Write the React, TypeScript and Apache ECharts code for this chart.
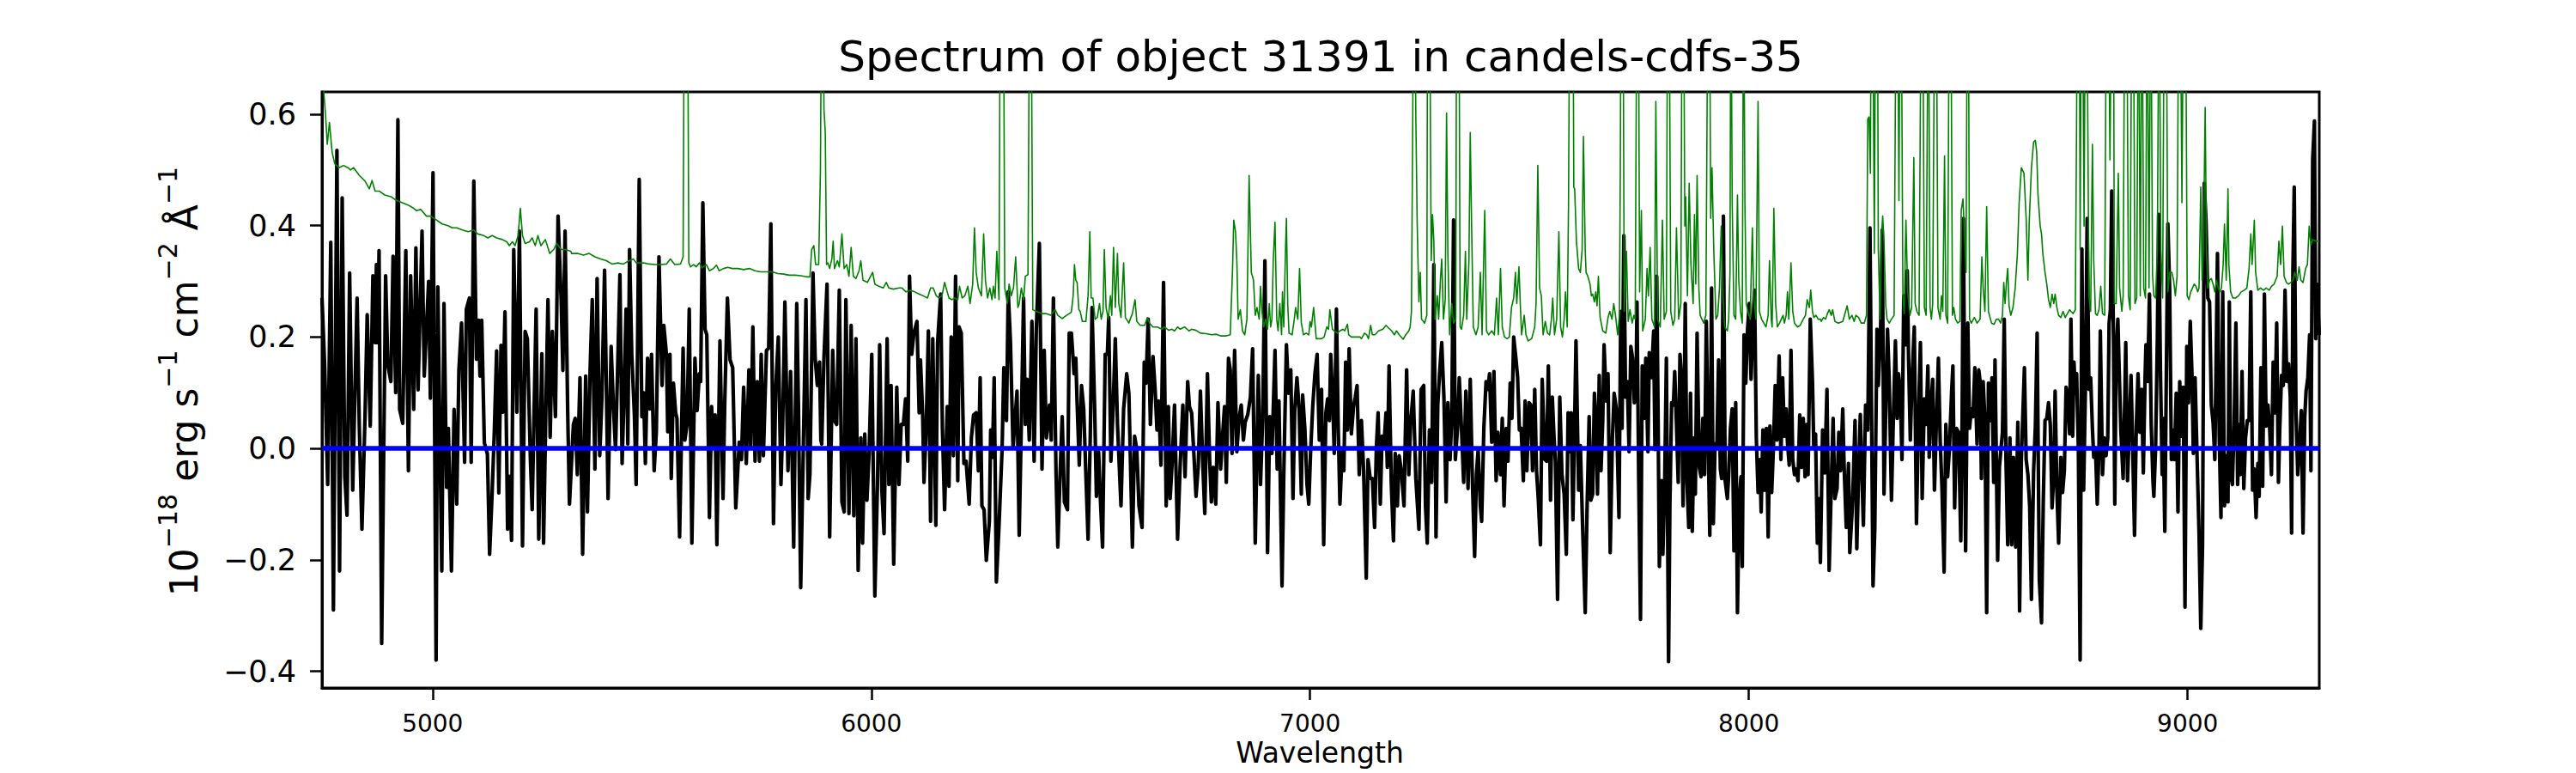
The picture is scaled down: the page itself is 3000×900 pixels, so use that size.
import React, { useEffect, useRef } from "react";
import * as echarts from "echarts";

const TITLE = "Spectrum of object 31391 in candels-cdfs-35";
const X_LABEL = "Wavelength";
const Y_LABEL_RICH = "{n|10}{s|\u221218}{n| erg s}{s|\u22121}{n| cm}{s|\u22122}{n| \u00C5}{s|\u22121}";
const X_TICKS = [5000, 6000, 7000, 8000, 9000];
const Y_TICKS = [-0.4, -0.2, 0, 0.2, 0.4, 0.6];
const X_MIN = 4748;
const X_MAX = 9300;
const Y_MIN = -0.43;
const Y_MAX = 0.64;

// black: object flux [wavelength, flux]
const fluxSeg1 = [[4748,0.27],[4754,0.15],[4761,-0.065],[4768,0.37],[4774,-0.29],[4782,0.535],[4788,-0.22],[4794,0.45],[4800,-0.05],[4805,-0.12],[4811,0.315],[4818,-0.075],[4828,0.27],[4833,0.04],[4839,-0.145],[4846,0.055],[4851,0.24],[4858,0.04],[4864,0.31],[4869,0.19],[4872,0.33],[4875,0.19],[4878,0.355],[4884,-0.35],[4893,0.31],[4898,0.15],[4905,0.12],[4910,0.345],[4916,0.10],[4921,0.59],[4925,0.07],[4932,0.045],[4939,0.355],[4945,-0.04],[4950,0.31],[4957,0.07],[4962,0.36],[4967,0.105],[4976,0.39],[4981,0.13],[4991,0.30],[4995,0.09],[5001,0.495],[5008,-0.38],[5012,0.29],[5021,-0.22],[5026,0.26],[5032,-0.07],[5036,0.036],[5043,-0.22],[5049,0.07],[5055,-0.10],[5060,0.14],[5066,0.225],[5073,-0.025],[5077,0.25],[5084,0.27],[5088,-0.025],[5094,0.48],[5100,0.16],[5105,0.23],[5108,0.13],[5112,0.23],[5118,0.01],[5125,-0.01],[5130,-0.19],[5136,-0.075],[5141,0.036],[5146,0.175],[5151,-0.08],[5156,0.185],[5160,0.065],[5165,0.245],[5171,-0.145],[5175,-0.05],[5180,-0.165],[5185,0.357],[5192,0.065],[5198,0.39],[5205,-0.175],[5211,0.21],[5216,0.197],[5223,-0.02],[5227,-0.11],[5236,0.25],[5242,-0.163],[5249,0.17],[5253,-0.17],[5258,0.06],[5263,0.267],[5268,0.02],[5273,0.21],[5280,0.057],[5286,0.417],[5293,0.267],[5297,0.14],[5302,0.39],[5308,0.065],[5312,-0.10]];
const fluxSeg2 = [[5321,0.043],[5325,0.054],[5330,-0.047],[5336,0.127],[5342,-0.19],[5349,0.13],[5353,-0.114],[5359,0.14],[5364,0.267],[5370,-0.037],[5375,0.305],[5381,-0.013],[5386,0.092],[5392,0.32],[5400,-0.09],[5407,0.183],[5412,0.078],[5417,-0.002],[5421,0.12],[5427,0.312],[5432,-0.027],[5436,0.085],[5441,0.25],[5445,0.008],[5449,0.357],[5454,0.169],[5460,0.06],[5464,-0.065],[5471,0.483],[5477,0.057],[5481,0.1],[5485,-0.027],[5490,0.162],[5495,0.071],[5499,0.169],[5505,-0.04],[5510,0.03],[5516,0.344],[5523,0.113],[5527,0.221],[5533,0.169],[5536,0.03],[5541,0.169],[5544,-0.054],[5549,0.117],[5554,0.064],[5557,0.054],[5563,-0.159],[5571,0.18],[5575,0.015],[5580,0.043],[5585,0.25],[5591,-0.17],[5598,0.162],[5603,0.068],[5608,0.134],[5611,0.12],[5616,0.441],[5621,0.214],[5625,0.204],[5631,-0.124],[5636,0.075],[5640,0.001],[5644,0.06],[5648,-0.173],[5655,0.193],[5662,-0.09],[5666,0.085],[5672,0.27],[5678,0.159],[5684,0.145],[5691,-0.107],[5699,0.011],[5704,-0.02],[5709,0.11],[5715,-0.027],[5721,0.141],[5725,0.001],[5730,0.218],[5735,-0.023],[5740,0.12],[5745,-0.023],[5749,0.169],[5754,-0.013],[5761,0.176],[5766,0.18],[5771,0.403],[5777,-0.135],[5782,0.106],[5788,0.2],[5794,-0.065],[5798,0.043],[5803,0.263],[5810,-0.04],[5816,0.138],[5823,-0.177],[5830,0.26],[5834,0.071],[5839,-0.25],[5846,0.043],[5851,0.267],[5856,-0.09],[5860,-0.047],[5867,0.315],[5872,0.162],[5877,0.113],[5882,0.155],[5885,0.015]];
const fluxSeg3 = [[5887,0.008],[5892,0.162],[5899,0.295],[5905,-0.159],[5912,0.176],[5916,0.05],[5921,0.043],[5927,0.284],[5933,-0.096],[5938,-0.114],[5942,0.267],[5949,-0.117],[5954,0.221],[5960,-0.121],[5965,0.197],[5970,-0.219],[5976,0.019],[5980,-0.17],[5985,0.026],[5990,-0.093],[5995,-0.006],[6001,0.169],[6008,-0.265],[6014,-0.065],[6019,0.186],[6024,-0.075],[6029,-0.153],[6036,0.197],[6040,-0.065],[6045,0.113],[6051,-0.208],[6058,0.11],[6063,-0.065],[6068,0.043],[6073,0.043],[6078,0.089],[6083,-0.023],[6087,0.309],[6092,0.169],[6097,0.207],[6104,0.228],[6109,0.064],[6112,0.159],[6117,0.06],[6120,-0.061],[6125,0.036],[6130,0.211],[6135,-0.131],[6140,0.197],[6147,-0.138],[6151,0.19],[6158,0.277],[6162,0.036],[6167,-0.11],[6173,0.075],[6177,-0.068],[6182,0.2],[6187,-0.013],[6192,0.309],[6197,-0.058],[6200,0.218],[6205,0.207],[6211,-0.027],[6216,-0.023],[6223,-0.1],[6228,0.019],[6233,0.06],[6239,0.064],[6244,-0.04],[6248,0.127],[6252,-0.103],[6257,-0.11],[6262,-0.201],[6269,-0.131],[6272,0.033],[6276,-0.016],[6280,0.127],[6285,-0.24],[6291,-0.138],[6298,-0.002],[6302,0.145],[6308,0.05],[6312,0.281],[6317,0.193],[6323,0.001],[6329,0.068],[6332,0.103],[6337,-0.156],[6342,0.05],[6347,0.27],[6351,0.043],[6355,0.124],[6360,0.015],[6366,0.228],[6371,-0.023],[6376,0.214],[6383,0.368],[6389,-0.037],[6394,0.176],[6399,0.019],[6406,0.078],[6410,0.015],[6415,0.27],[6421,-0.047],[6425,-0.177],[6430,-0.051],[6435,0.057],[6440,-0.096],[6447,-0.11],[6451,0.207]];
const fluxSeg4 = [[6456,0.207],[6462,0.134],[6466,0.162],[6469,0.082],[6474,-0.03],[6479,0.113],[6484,0.071],[6489,-0.047],[6494,-0.163],[6499,0.022],[6503,0.253],[6509,0.071],[6513,-0.086],[6518,-0.006],[6522,-0.09],[6527,-0.177],[6533,0.169],[6538,0.169],[6541,0.235],[6546,-0.023],[6551,0.071],[6556,0.197],[6561,0.043],[6569,-0.103],[6575,0.071],[6582,0.134],[6587,0.099],[6595,-0.177],[6600,0.022],[6605,-0.002],[6610,-0.103],[6617,-0.142],[6622,0.155],[6626,0.117],[6631,0.232],[6636,0.043],[6642,0.165],[6647,0.103],[6651,0.033],[6655,0.085],[6660,-0.03],[6666,0.298],[6672,-0.103],[6677,0.075],[6681,-0.09],[6686,-0.02],[6691,0.078],[6698,-0.163],[6704,-0.027],[6710,0.078],[6715,-0.051],[6721,0.12],[6725,0.075],[6730,0.064],[6736,-0.023],[6740,-0.086],[6745,-0.034],[6750,0.103],[6755,-0.02],[6760,-0.117],[6766,0.134],[6771,-0.02],[6775,-0.096],[6779,-0.034],[6785,-0.1],[6790,0.082],[6796,-0.037],[6801,0.029],[6805,0.075],[6809,-0.061],[6814,0.162],[6818,0.141],[6822,-0.009],[6828,0.176],[6833,-0.006],[6838,0.054],[6843,0.078],[6848,0.015],[6852,0.047],[6858,0.061],[6864,0.092],[6869,0.179],[6875,-0.17],[6882,0.131],[6887,-0.065],[6892,0.057],[6897,0.337],[6903,-0.187],[6908,0.057],[6913,-0.009],[6920,0.176],[6925,-0.037],[6929,0.085],[6936,-0.247],[6940,-0.047],[6946,0.186],[6951,0.099],[6956,0.141],[6961,-0.09],[6965,0.068],[6970,0.127],[6975,0.071],[6980,-0.082],[6983,0.096],[6988,0.036],[6993,-0.065],[6997,-0.1],[7001,-0.009],[7006,0.075],[7011,0.134],[7016,0.169],[7021,0.015]];
const fluxSeg5 = [[7026,0.106],[7031,-0.173],[7036,0.064],[7040,0.089],[7044,0.05],[7047,0.169],[7052,0.078],[7055,-0.009],[7060,0.25],[7064,0.043],[7068,-0.1],[7073,-0.006],[7077,-0.04],[7081,0.155],[7085,0.033],[7089,0.179],[7094,0.026],[7099,0.075],[7103,0.092],[7107,0.113],[7112,-0.047],[7117,0.05],[7122,-0.04],[7128,-0.233],[7132,-0.02],[7137,-0.054],[7142,-0.054],[7147,-0.142],[7151,0.001],[7155,0.064],[7160,-0.1],[7164,0.022],[7168,0.001],[7173,0.064],[7176,-0.034],[7180,0.148],[7185,-0.061],[7190,-0.166],[7194,-0.009],[7199,-0.103],[7203,-0.013],[7208,-0.04],[7214,-0.103],[7220,0.141],[7225,-0.047],[7229,0.043],[7235,0.103],[7241,-0.054],[7248,-0.145],[7253,0.106],[7259,0.113],[7263,-0.103],[7267,-0.17],[7272,0.033],[7277,-0.061],[7282,0.33],[7287,-0.159],[7291,0.078],[7295,0.134],[7300,0.19],[7305,0.092],[7310,-0.096],[7314,0.082],[7319,-0.02],[7323,0.057],[7327,0.41],[7331,-0.02],[7336,0.036],[7340,0.127],[7345,0.036],[7350,-0.061],[7355,0.103],[7360,-0.072],[7365,0.124],[7370,-0.061],[7375,-0.194],[7379,-0.047],[7383,-0.002],[7388,-0.103],[7391,-0.131],[7396,0.036],[7401,0.12],[7405,0.106],[7409,0.134],[7414,0.011],[7419,0.138],[7424,-0.058],[7428,0.029],[7434,-0.047],[7438,0.054],[7442,-0.103],[7447,0.036],[7451,-0.023],[7456,0.117],[7460,0.054],[7464,0.2],[7469,0.162],[7473,0.127],[7477,0.033],[7481,0.036],[7486,-0.058],[7490,0.085],[7494,-0.04],[7499,0.082],[7503,0.078],[7507,-0.04],[7512,0.106],[7516,-0.04],[7520,-0.09],[7525,-0.173],[7529,0.124],[7535,-0.02],[7539,-0.023],[7543,0.148],[7548,-0.093],[7552,0.092],[7556,0.019],[7559,-0.023],[7564,-0.271],[7569,0.092],[7574,-0.047],[7579,-0.082],[7584,-0.19],[7588,0.064],[7593,-0.006]];
const fluxSeg6 = [[7595,0.064],[7599,-0.128],[7602,0.001],[7606,0.193],[7612,-0.075],[7616,0.005],[7621,-0.138],[7627,-0.295],[7631,-0.117],[7636,0.057],[7640,-0.093],[7644,-0.082],[7648,0.099],[7651,0.057],[7655,-0.082],[7659,0.131],[7663,-0.04],[7667,0.05],[7670,0.186],[7675,0.085],[7679,0.134],[7684,-0.187],[7689,0.019],[7693,0.099],[7698,0.071],[7704,-0.124],[7708,0.246],[7711,0.036],[7715,0.382],[7719,0.092],[7723,0.12],[7727,-0.006],[7731,0.183],[7735,0.162],[7739,0.082],[7743,0.117],[7745,0.263],[7749,-0.061],[7753,-0.307],[7757,0.148],[7761,0.054],[7765,0.162],[7770,-0.006],[7773,0.172],[7778,0.127],[7783,0.211],[7786,-0.002],[7790,0.309],[7793,0.071],[7796,-0.212],[7801,-0.058],[7804,-0.19],[7808,-0.068],[7812,0.162],[7817,-0.383],[7820,-0.103],[7824,0.082],[7828,0.078],[7831,0.138],[7835,0.043],[7839,-0.061],[7843,0.169],[7846,0.131],[7850,-0.103],[7855,0.26],[7859,-0.061],[7863,-0.142],[7867,0.099],[7871,-0.149],[7875,0.019],[7878,-0.082],[7882,0.207],[7887,-0.034],[7891,-0.051],[7895,0.054],[7899,-0.047],[7903,0.228],[7907,0.029],[7911,-0.156],[7915,0.288],[7919,-0.135],[7923,0.008],[7927,0.001],[7931,0.159],[7935,-0.037],[7938,-0.054],[7942,0.417],[7946,-0.058],[7951,-0.09],[7954,-0.047],[7958,0.036],[7962,0.071],[7966,-0.184],[7970,0.082],[7974,-0.295],[7978,-0.093],[7982,-0.051],[7985,-0.212],[7989,0.204],[7993,0.117],[7997,0.214],[8001,0.26],[8005,0.124],[8009,0.218],[8013,0.284],[8017,0.019],[8021,-0.079],[8025,-0.02],[8028,-0.114],[8032,0.033],[8036,-0.075],[8040,0.036],[8044,-0.159],[8048,0.04],[8052,-0.079],[8056,0.001],[8060,0.113],[8064,0.015],[8069,0.166],[8073,-0.02],[8077,0.127],[8081,0.022],[8085,0.071],[8088,0.011],[8092,-0.03],[8096,0.176],[8100,-0.02],[8104,-0.047],[8108,-0.037],[8112,-0.058],[8116,0.06],[8120,-0.034],[8124,0.054],[8128,-0.051],[8132,0.043],[8135,-0.047],[8140,0.232],[8145,0.12],[8148,0.001],[8152,0.026],[8156,-0.17],[8160,-0.09],[8163,-0.205]];
const fluxSeg7 = [[8168,0.033],[8173,-0.044],[8178,0.106],[8183,-0.219],[8188,-0.061],[8192,0.054],[8196,-0.09],[8201,-0.072],[8205,0.029],[8209,-0.04],[8214,0.071],[8217,-0.03],[8222,-0.142],[8227,-0.027],[8230,-0.187],[8235,-0.117],[8238,-0.054],[8242,0.05],[8246,-0.18],[8250,-0.047],[8254,0.061],[8257,-0.027],[8261,-0.138],[8266,0.078],[8271,0.033],[8276,0.396],[8280,0.029],[8283,-0.247],[8287,-0.145],[8292,0.214],[8295,0.113],[8300,0.204],[8304,0.392],[8308,-0.082],[8313,0.106],[8316,0.214],[8320,0.12],[8325,-0.093],[8329,0.043],[8334,0.193],[8338,0.054],[8341,0.134],[8345,0.106],[8349,-0.02],[8353,0.274],[8357,0.186],[8361,0.319],[8364,0.162],[8368,0.015],[8372,0.127],[8377,0.218],[8382,-0.135],[8387,0.071],[8391,0.19],[8395,-0.09],[8400,0.089],[8404,0.043],[8408,0.148],[8411,-0.016],[8415,0.078],[8419,0.124],[8423,-0.075],[8427,0.036],[8432,0.162],[8436,0.015],[8440,-0.068],[8445,-0.222],[8449,0.043],[8453,-0.051],[8457,-0.002],[8462,0.099],[8465,0.148],[8469,-0.107],[8473,0.036],[8478,0.029],[8483,-0.166],[8486,0.05],[8489,0.413],[8494,-0.184],[8499,0.225],[8503,0.036],[8507,0.071],[8511,0.057],[8515,0.145],[8520,0.008],[8524,0.141],[8527,0.12],[8530,-0.054],[8534,0.12],[8538,0.05],[8542,-0.295],[8546,0.117],[8550,0.05],[8554,0.127],[8558,-0.061],[8561,0.159],[8567,-0.201],[8571,-0.034],[8574,-0.006],[8578,0.029],[8582,0.232],[8586,-0.02],[8590,-0.173],[8595,0.019],[8599,-0.173],[8603,-0.016],[8608,-0.177],[8613,0.047],[8617,-0.292],[8621,-0.02],[8628,0.145],[8632,-0.02],[8636,-0.047],[8640,-0.103],[8644,-0.271],[8649,-0.04],[8653,0.04],[8657,0.207],[8662,-0.236],[8667,-0.313],[8671,-0.096],[8675,0.05],[8679,0.054],[8683,0.082],[8687,0.043],[8691,-0.107],[8695,-0.047],[8698,0.103],[8702,-0.075],[8706,-0.17],[8711,-0.016],[8715,-0.079],[8719,-0.04],[8723,0.11],[8727,0.092],[8731,0.026],[8734,0.232]];
const fluxSeg8 = [[8738,0.022],[8741,0.155],[8744,0.099],[8747,0.134],[8751,-0.002],[8755,-0.38],[8759,0.358],[8763,-0.075],[8767,0.106],[8771,0.413],[8775,0.106],[8779,0.127],[8783,0.036],[8786,-0.016],[8790,0.001],[8794,-0.1],[8798,0.001],[8801,0.211],[8806,-0.047],[8810,0.019],[8814,-0.013],[8818,0.019],[8821,0.225],[8824,0.249],[8827,0.462],[8831,0.197],[8834,-0.1],[8837,0.169],[8841,0.232],[8844,0.141],[8848,0.029],[8853,-0.054],[8857,0.099],[8859,0.19],[8863,-0.058],[8867,0.033],[8871,0.131],[8875,-0.006],[8879,-0.156],[8883,0.04],[8887,0.134],[8891,0.029],[8895,0.106],[8899,-0.044],[8903,0.127],[8905,0.186],[8909,0.12],[8913,0.277],[8917,0.043],[8921,-0.058],[8923,-0.086],[8927,0.001],[8931,0.197],[8934,0.42],[8938,0.141],[8942,-0.047],[8944,0.054],[8948,-0.149],[8951,0.096],[8955,0.403],[8959,0.288],[8963,-0.02],[8966,0.033],[8970,-0.02],[8974,0.099],[8978,-0.114],[8982,0.12],[8986,0.022],[8990,0.11],[8994,-0.285],[8998,0.183],[9002,0.082],[9006,0.228],[9010,0.131],[9013,-0.009],[9017,0.127],[9021,0.001],[9026,-0.152],[9030,-0.323],[9034,-0.173],[9038,0.476],[9042,0.406],[9046,0.27],[9050,0.263],[9054,0.078],[9058,0.047],[9062,-0.02],[9066,0.221],[9068,0.35],[9072,0.022],[9076,-0.124],[9080,0.281],[9084,-0.103],[9088,-0.013],[9092,-0.096],[9095,0.263],[9098,-0.047],[9102,-0.065],[9106,0.043],[9110,0.225],[9114,-0.065],[9118,0.043],[9120,-0.047],[9124,0.138],[9128,-0.072],[9132,0.019],[9136,0.05],[9140,0.05],[9144,0.281],[9148,-0.075],[9152,-0.037],[9156,-0.124],[9160,-0.027],[9163,-0.086],[9167,0.145],[9171,-0.068],[9175,0.277],[9179,0.04],[9183,0.078],[9187,0.036],[9191,-0.047],[9195,0.155],[9199,0.064],[9203,0.225],[9207,-0.061],[9210,0.036],[9214,0.131],[9218,0.113],[9222,0.284],[9226,0.12],[9230,0.152],[9234,0.092],[9237,-0.152],[9240,0.323],[9243,0.469],[9247,0.064],[9251,-0.047],[9255,0.001],[9259,0.068],[9263,-0.152],[9267,0.057],[9270,0.103],[9274,0.127],[9278,0.204],[9281,-0.04],[9285,0.518],[9289,0.588],[9292,0.197],[9295,0.295],[9300,0.204]];

// green: noise / sky spectrum [wavelength, value]
const skySeg1 = [[4748,0.7],[4752,0.64],[4756,0.6],[4760,0.546],[4765,0.585],[4771,0.532],[4777,0.511],[4787,0.504],[4797,0.508],[4807,0.504],[4813,0.5],[4820,0.504],[4833,0.49],[4846,0.48],[4856,0.466],[4862,0.481],[4869,0.462],[4878,0.462],[4891,0.455],[4905,0.452],[4918,0.445],[4931,0.441],[4944,0.437],[4957,0.431],[4963,0.427],[4973,0.429],[4986,0.417],[4996,0.417],[5009,0.41],[5022,0.403],[5035,0.4],[5045,0.396],[5055,0.396],[5068,0.392],[5081,0.389],[5094,0.392],[5103,0.385],[5117,0.382],[5126,0.378],[5136,0.382],[5146,0.378],[5159,0.375],[5169,0.371],[5175,0.364],[5182,0.371],[5188,0.364],[5195,0.382],[5200,0.431],[5205,0.382],[5211,0.368],[5221,0.371],[5227,0.378],[5234,0.364],[5240,0.382],[5247,0.364],[5257,0.375],[5267,0.35],[5276,0.357],[5283,0.368],[5293,0.357],[5302,0.357],[5315,0.354]];
const skySeg2 = [[5317,0.35],[5330,0.35],[5344,0.347],[5357,0.35],[5370,0.344],[5383,0.34],[5396,0.337],[5409,0.331],[5422,0.333],[5435,0.331],[5448,0.337],[5458,0.34],[5464,0.333],[5481,0.333],[5494,0.331],[5507,0.33],[5520,0.33],[5533,0.331],[5542,0.34],[5552,0.33],[5565,0.331],[5571,0.344],[5574,0.9],[5578,0.9],[5581,0.9],[5584,0.333],[5588,0.326],[5595,0.33],[5601,0.326],[5608,0.333],[5614,0.324],[5624,0.33],[5631,0.319],[5640,0.323],[5647,0.329],[5653,0.319],[5663,0.323],[5673,0.325],[5683,0.323],[5696,0.323],[5709,0.321],[5722,0.323],[5735,0.319],[5748,0.317],[5761,0.317],[5774,0.317],[5787,0.314],[5800,0.313],[5813,0.311],[5826,0.311],[5839,0.31],[5852,0.308],[5860,0.308],[5864,0.357],[5869,0.364],[5873,0.33],[5880,0.33],[5884,0.5]];
const skySeg3 = [[5887,0.9],[5890,0.9],[5892,0.61],[5895,0.567],[5898,0.33],[5901,0.333],[5905,0.323],[5910,0.34],[5913,0.372],[5916,0.323],[5923,0.337],[5927,0.326],[5933,0.385],[5938,0.323],[5944,0.33],[5949,0.309],[5954,0.361],[5959,0.309],[5965,0.305],[5972,0.319],[5976,0.337],[5981,0.302],[5991,0.298],[6003,0.316],[6008,0.295],[6017,0.291],[6027,0.288],[6034,0.298],[6040,0.288],[6050,0.286],[6063,0.288],[6070,0.288],[6079,0.281],[6089,0.284],[6099,0.281],[6109,0.277],[6118,0.274],[6128,0.27],[6135,0.288],[6141,0.288],[6148,0.274],[6154,0.27],[6161,0.274],[6167,0.298],[6173,0.281],[6177,0.27],[6184,0.267],[6190,0.27],[6197,0.267],[6201,0.291],[6207,0.27],[6213,0.274],[6220,0.291],[6225,0.26],[6231,0.295],[6235,0.396],[6239,0.316],[6244,0.288],[6251,0.274],[6256,0.385],[6260,0.302],[6265,0.27],[6270,0.288],[6275,0.267],[6278,0.291],[6282,0.27],[6286,0.354],[6291,0.267],[6294,0.9],[6298,0.9],[6301,0.9],[6304,0.288],[6310,0.26],[6314,0.295],[6319,0.274],[6324,0.288],[6329,0.344],[6334,0.253],[6337,0.26],[6342,0.288],[6347,0.267],[6351,0.309],[6357,0.312],[6361,0.9],[6364,0.9],[6368,0.249],[6376,0.246],[6389,0.242],[6399,0.242],[6409,0.239],[6419,0.249],[6425,0.239],[6435,0.233],[6445,0.239],[6455,0.244]];
const skySeg4 = [[6456,0.246],[6460,0.274],[6463,0.33],[6466,0.302],[6469,0.298],[6473,0.249],[6476,0.246],[6481,0.228],[6489,0.228],[6494,0.274],[6498,0.389],[6501,0.27],[6505,0.27],[6510,0.232],[6515,0.235],[6520,0.26],[6524,0.232],[6528,0.246],[6531,0.357],[6535,0.253],[6540,0.232],[6545,0.274],[6548,0.239],[6552,0.361],[6556,0.253],[6561,0.35],[6564,0.26],[6569,0.235],[6575,0.333],[6579,0.235],[6587,0.225],[6590,0.232],[6595,0.242],[6601,0.267],[6605,0.228],[6613,0.221],[6623,0.221],[6629,0.235],[6634,0.225],[6642,0.218],[6652,0.218],[6662,0.214],[6668,0.218],[6678,0.212],[6685,0.214],[6691,0.211],[6698,0.218],[6704,0.214],[6714,0.218],[6724,0.211],[6730,0.214],[6740,0.212],[6750,0.207],[6763,0.206],[6776,0.204],[6786,0.205],[6796,0.202],[6809,0.202],[6818,0.204],[6823,0.316],[6826,0.41],[6830,0.389],[6833,0.337],[6836,0.232],[6841,0.249],[6846,0.211],[6851,0.204],[6856,0.232],[6858,0.337],[6861,0.49],[6866,0.316],[6871,0.302],[6875,0.239],[6879,0.253],[6884,0.232],[6887,0.291],[6890,0.249],[6894,0.218],[6899,0.232],[6903,0.214],[6907,0.26],[6910,0.218],[6913,0.232],[6916,0.337],[6920,0.406],[6924,0.232],[6927,0.211],[6931,0.26],[6935,0.204],[6937,0.281],[6940,0.218],[6944,0.357],[6946,0.413],[6949,0.26],[6952,0.207],[6959,0.204],[6964,0.232],[6967,0.253],[6972,0.232],[6976,0.323],[6980,0.225],[6985,0.204],[6991,0.207],[6997,0.204],[7000,0.228],[7003,0.218],[7008,0.253],[7011,0.225],[7014,0.197],[7024,0.197]];
const skySeg5 = [[7026,0.197],[7032,0.2],[7038,0.218],[7042,0.214],[7045,0.249],[7051,0.214],[7055,0.211],[7062,0.207],[7068,0.211],[7075,0.214],[7079,0.211],[7085,0.223],[7088,0.204],[7094,0.2],[7104,0.2],[7114,0.2],[7117,0.197],[7124,0.207],[7129,0.204],[7133,0.197],[7138,0.221],[7142,0.204],[7148,0.204],[7156,0.211],[7166,0.214],[7173,0.221],[7179,0.216],[7186,0.211],[7192,0.204],[7197,0.211],[7203,0.204],[7212,0.196],[7218,0.204],[7225,0.211],[7228,0.218],[7231,0.246],[7234,0.6],[7236,0.9],[7238,0.9],[7241,0.595],[7244,0.406],[7248,0.263],[7251,0.316],[7254,0.232],[7261,0.225],[7266,0.239],[7268,0.9],[7272,0.9],[7276,0.337],[7279,0.42],[7282,0.372],[7285,0.232],[7290,0.274],[7293,0.232],[7297,0.302],[7300,0.34],[7304,0.232],[7308,0.267],[7311,0.602],[7314,0.35],[7318,0.204],[7323,0.26],[7327,0.225],[7332,0.232],[7334,0.9],[7339,0.9],[7342,0.218],[7345,0.214],[7350,0.239],[7354,0.354],[7357,0.232],[7362,0.337],[7365,0.567],[7368,0.406],[7372,0.218],[7378,0.204],[7383,0.218],[7388,0.316],[7392,0.204],[7398,0.427],[7402,0.211],[7407,0.204],[7414,0.211],[7420,0.204],[7425,0.27],[7429,0.204],[7434,0.323],[7438,0.218],[7443,0.2],[7449,0.197],[7454,0.2],[7459,0.253],[7464,0.27],[7468,0.316],[7471,0.26],[7476,0.326],[7479,0.26],[7482,0.204],[7488,0.239],[7492,0.204],[7497,0.193],[7505,0.197],[7512,0.218],[7515,0.26],[7519,0.508],[7523,0.288],[7527,0.274],[7531,0.204],[7536,0.228],[7541,0.207],[7546,0.204],[7550,0.232],[7553,0.27],[7557,0.204],[7562,0.232],[7567,0.389],[7571,0.218],[7575,0.2],[7579,0.232],[7582,0.281],[7586,0.218],[7589,0.441],[7592,0.9]];
const skySeg6 = [[7595,0.9],[7599,0.9],[7601,0.469],[7603,0.466],[7607,0.372],[7612,0.323],[7616,0.316],[7620,0.357],[7623,0.56],[7627,0.357],[7629,0.316],[7633,0.309],[7638,0.295],[7641,0.274],[7644,0.277],[7648,0.263],[7651,0.281],[7654,0.256],[7657,0.309],[7661,0.235],[7667,0.211],[7674,0.207],[7679,0.235],[7683,0.246],[7688,0.232],[7692,0.26],[7696,0.239],[7701,0.204],[7705,0.239],[7707,0.5],[7709,0.9],[7713,0.9],[7716,0.246],[7721,0.354],[7725,0.228],[7729,0.249],[7734,0.225],[7738,0.239],[7741,0.232],[7745,0.9],[7748,0.9],[7751,0.281],[7755,0.427],[7758,0.211],[7764,0.232],[7768,0.323],[7771,0.274],[7775,0.361],[7779,0.232],[7785,0.218],[7788,0.623],[7792,0.232],[7798,0.218],[7803,0.41],[7807,0.232],[7812,0.246],[7815,0.9],[7818,0.9],[7822,0.246],[7827,0.221],[7831,0.232],[7835,0.396],[7840,0.232],[7845,0.26],[7848,0.9],[7851,0.9],[7854,0.399],[7856,0.452],[7860,0.274],[7864,0.476],[7868,0.33],[7873,0.26],[7876,0.42],[7879,0.295],[7882,0.49],[7886,0.288],[7889,0.239],[7893,0.232],[7897,0.225],[7902,0.239],[7907,0.9],[7910,0.9],[7913,0.413],[7916,0.504],[7920,0.357],[7925,0.232],[7929,0.239],[7933,0.288],[7937,0.399],[7941,0.274],[7945,0.218],[7951,0.211],[7954,0.232],[7957,0.316],[7959,0.9],[7962,0.441],[7966,0.239],[7970,0.232],[7974,0.455],[7977,0.302],[7981,0.246],[7985,0.225],[7988,0.9],[7991,0.441],[7994,0.26],[7998,0.246],[8003,0.232],[8008,0.396],[8011,0.274],[8016,0.232],[8021,0.623],[8024,0.246],[8029,0.232],[8034,0.225],[8039,0.218],[8044,0.239],[8047,0.337],[8051,0.232],[8053,0.218],[8057,0.431],[8061,0.26],[8065,0.218],[8070,0.225],[8074,0.232],[8078,0.239],[8081,0.225],[8085,0.239],[8088,0.281],[8091,0.232],[8096,0.333],[8100,0.246],[8104,0.225],[8111,0.218],[8117,0.221],[8124,0.232],[8129,0.239],[8133,0.267],[8138,0.253],[8141,0.284],[8145,0.246],[8148,0.235],[8153,0.239],[8158,0.232],[8163,0.232]];
const skySeg7 = [[8165,0.228],[8170,0.235],[8175,0.232],[8179,0.242],[8183,0.249],[8188,0.239],[8191,0.249],[8196,0.228],[8204,0.225],[8214,0.228],[8218,0.239],[8224,0.256],[8229,0.232],[8235,0.239],[8240,0.228],[8244,0.239],[8250,0.235],[8256,0.225],[8263,0.225],[8268,0.239],[8271,0.591],[8274,0.595],[8277,0.494],[8279,0.9],[8282,0.9],[8286,0.35],[8289,0.9],[8293,0.9],[8295,0.357],[8299,0.232],[8302,0.378],[8305,0.417],[8308,0.372],[8312,0.256],[8315,0.232],[8320,0.225],[8325,0.232],[8331,0.239],[8336,0.9],[8339,0.9],[8342,0.445],[8345,0.9],[8347,0.9],[8351,0.274],[8354,0.242],[8358,0.41],[8362,0.281],[8367,0.239],[8371,0.253],[8376,0.522],[8379,0.26],[8383,0.246],[8388,0.239],[8393,0.9],[8396,0.9],[8400,0.253],[8404,0.239],[8409,0.9],[8413,0.253],[8416,0.232],[8419,0.26],[8424,0.9],[8427,0.9],[8431,0.253],[8436,0.232],[8439,0.274],[8442,0.246],[8446,0.525],[8449,0.239],[8453,0.225],[8457,0.9],[8460,0.9],[8464,0.239],[8467,0.253],[8471,0.232],[8476,0.225],[8481,0.228],[8484,0.427],[8488,0.448],[8491,0.392],[8495,0.316],[8498,0.9],[8500,0.9],[8503,0.232],[8507,0.225],[8514,0.235],[8520,0.225],[8527,0.232],[8531,0.344],[8534,0.288],[8538,0.246],[8542,0.434],[8546,0.246],[8553,0.225],[8559,0.223],[8564,0.232],[8569,0.232],[8574,0.225],[8578,0.239],[8581,0.298],[8584,0.26],[8587,0.298],[8590,0.323],[8593,0.256],[8597,0.239],[8602,0.253],[8607,0.288],[8612,0.35],[8616,0.441],[8621,0.504],[8627,0.494],[8632,0.413],[8636,0.302],[8639,0.406],[8644,0.504],[8649,0.55],[8653,0.553],[8656,0.532],[8659,0.455],[8664,0.399],[8667,0.385],[8670,0.35],[8675,0.316],[8679,0.295],[8683,0.267],[8687,0.253],[8691,0.277],[8695,0.26],[8698,0.277],[8702,0.253],[8706,0.239],[8711,0.235],[8716,0.246],[8721,0.235],[8726,0.242],[8731,0.249]];
const skySeg8 = [[8734,0.246],[8739,0.242],[8744,0.249],[8747,0.6],[8749,0.9],[8753,0.9],[8755,0.357],[8758,0.9],[8760,0.9],[8764,0.399],[8767,0.9],[8770,0.9],[8775,0.274],[8779,0.246],[8783,0.546],[8786,0.337],[8790,0.242],[8794,0.239],[8798,0.249],[8802,0.291],[8806,0.242],[8811,0.239],[8815,0.9],[8819,0.9],[8823,0.518],[8827,0.9],[8831,0.9],[8833,0.26],[8837,0.26],[8842,0.494],[8845,0.288],[8850,0.246],[8853,0.274],[8857,0.9],[8861,0.9],[8865,0.274],[8869,0.249],[8873,0.9],[8876,0.9],[8880,0.26],[8884,0.27],[8888,0.9],[8892,0.274],[8896,0.9],[8900,0.288],[8904,0.27],[8908,0.9],[8912,0.288],[8916,0.9],[8920,0.312],[8923,0.274],[8927,0.27],[8931,0.357],[8935,0.9],[8939,0.357],[8943,0.27],[8947,0.9],[8951,0.9],[8955,0.281],[8959,0.316],[8964,0.316],[8968,0.302],[8972,0.274],[8976,0.309],[8980,0.9],[8983,0.9],[8987,0.441],[8991,0.9],[8995,0.9],[8999,0.274],[9003,0.267],[9007,0.281],[9011,0.288],[9015,0.295],[9019,0.291],[9023,0.281],[9026,0.288],[9030,0.469],[9033,0.302],[9036,0.357],[9040,0.612],[9043,0.357],[9046,0.288],[9050,0.302],[9054,0.305],[9058,0.295],[9062,0.281],[9066,0.302],[9070,0.288],[9073,0.281],[9077,0.288],[9081,0.33],[9084,0.403],[9088,0.302],[9092,0.466],[9094,0.33],[9098,0.281],[9103,0.27],[9109,0.27],[9116,0.274],[9122,0.281],[9129,0.284],[9135,0.288],[9140,0.323],[9144,0.385],[9147,0.33],[9152,0.41],[9155,0.316],[9160,0.284],[9166,0.288],[9173,0.284],[9179,0.288],[9186,0.284],[9191,0.291],[9197,0.295],[9204,0.309],[9208,0.372],[9212,0.33],[9216,0.399],[9220,0.309],[9225,0.298],[9230,0.295],[9235,0.298],[9240,0.302],[9244,0.316],[9250,0.302],[9254,0.326],[9258,0.302],[9263,0.298],[9269,0.323],[9273,0.33],[9277,0.399],[9281,0.365],[9285,0.375],[9292,0.372],[9300,0.372]];

// blue: zero level
const zeroLine = [[X_MIN, 0], [X_MAX, 0]];

const FONT = "DejaVu Sans";

export default function App() {
  const ref = useRef<HTMLDivElement>(null);
  useEffect(() => {
    if (!ref.current) return;
    const chart = echarts.init(ref.current, undefined, { renderer: "svg" });
    const flux = [...fluxSeg1, ...fluxSeg2, ...fluxSeg3, ...fluxSeg4, ...fluxSeg5, ...fluxSeg6, ...fluxSeg7, ...fluxSeg8];
    const sky = [...skySeg1, ...skySeg2, ...skySeg3, ...skySeg4, ...skySeg5, ...skySeg6, ...skySeg7, ...skySeg8];
    const tickLine = { color: "#000", width: 2.5 };
    chart.setOption({
      animation: false,
      backgroundColor: "#ffffff",
      grid: {
        left: 375, top: 107, width: 2326, height: 694,
        show: true, borderColor: "#000", borderWidth: 3, backgroundColor: "transparent",
      },
      xAxis: {
        type: "value", min: X_MIN, max: X_MAX,
        axisLine: { show: true, onZero: false, lineStyle: { color: "#000", width: 3 } },
        axisTick: { show: true, inside: false, length: 14, lineStyle: tickLine, customValues: X_TICKS },
        axisLabel: {
          customValues: X_TICKS, margin: 27, fontSize: 28, fontFamily: FONT, color: "#000",
          formatter: (v: number) => String(Math.round(v)),
        },
        splitLine: { show: false },
      },
      yAxis: {
        type: "value", min: Y_MIN, max: Y_MAX,
        axisLine: { show: true, onZero: false, lineStyle: { color: "#000", width: 3 } },
        axisTick: { show: true, inside: false, length: 14, lineStyle: tickLine, customValues: Y_TICKS },
        axisLabel: {
          customValues: Y_TICKS, margin: 30, fontSize: 35, fontFamily: FONT, color: "#000",
          formatter: (v: number) => v.toFixed(1).replace("-", "\u2212"),
        },
        splitLine: { show: false },
      },
      series: [
        {
          name: "flux", type: "line", data: flux, symbol: "none", showSymbol: false, clip: true,
          lineStyle: { color: "#000000", width: 4.2, join: "round" }, itemStyle: { color: "#000000" },
        },
        {
          name: "sky", type: "line", data: sky, symbol: "none", showSymbol: false, clip: true,
          lineStyle: { color: "#008000", width: 1.6, join: "round" }, itemStyle: { color: "#008000" },
        },
        {
          name: "zero", type: "line", data: zeroLine, symbol: "none", showSymbol: false, clip: true,
          lineStyle: { color: "#0000ff", width: 5.5 }, itemStyle: { color: "#0000ff" },
        },
      ],
      graphic: [
        {
          type: "text", x: 1538, y: 66,
          style: {
            text: TITLE, fontSize: 50, fontFamily: FONT, fill: "#000",
            align: "center", verticalAlign: "middle", textAlign: "center", textVerticalAlign: "middle",
          },
        },
        {
          type: "text", x: 1537, y: 876,
          style: {
            text: X_LABEL, fontSize: 33, fontFamily: FONT, fill: "#000",
            align: "center", verticalAlign: "middle", textAlign: "center", textVerticalAlign: "middle",
          },
        },
        {
          type: "text", x: 208.5, y: 444, rotation: Math.PI / 2,
          style: {
            text: Y_LABEL_RICH, fontSize: 44, fontFamily: FONT, fill: "#000",
            align: "center", verticalAlign: "middle", textAlign: "center", textVerticalAlign: "middle",
            rich: {
              n: { fontSize: 44, lineHeight: 56, fontFamily: FONT, fill: "#000", color: "#000", verticalAlign: "bottom" },
              s: { fontSize: 30, lineHeight: 30, fontFamily: FONT, fill: "#000", color: "#000", verticalAlign: "top" },
            },
          },
        },
      ],
    });
    return () => chart.dispose();
  }, []);
  return <div ref={ref} style={{ position: "absolute", left: 0, top: 0, width: 3000, height: 900, background: "#fff" }} />;
}
